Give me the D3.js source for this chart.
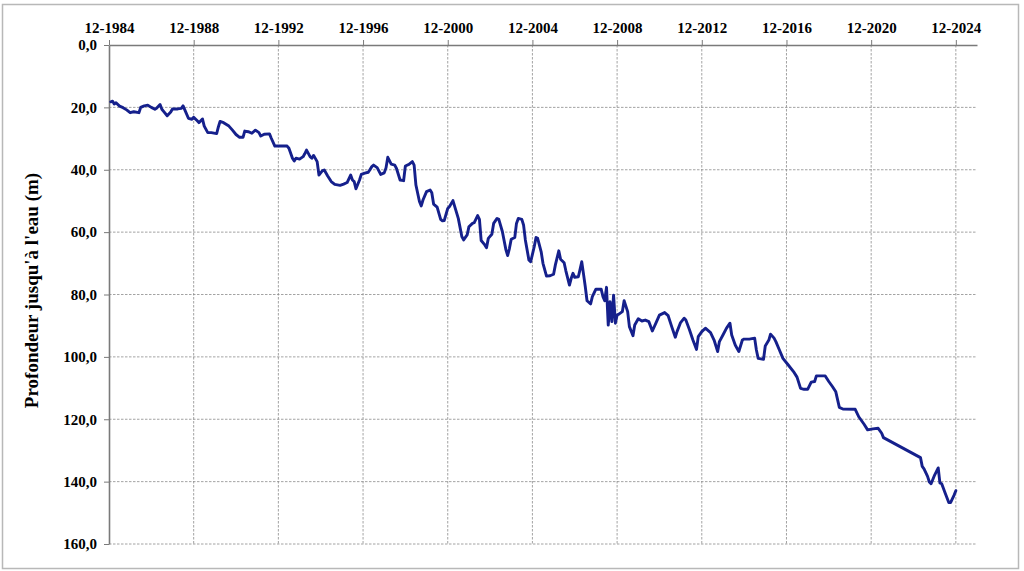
<!DOCTYPE html>
<html>
<head>
<meta charset="utf-8">
<script src="https://cdn.jsdelivr.net/npm/d3@7"></script>
<style>
  html, body { margin: 0; padding: 0; background: #fff; }
  svg { display: block; }
  text { font-family: "Liberation Serif", "Times New Roman", serif; font-weight: bold; fill: #000; }
</style>
</head>
<body>
<svg id="chart" width="1024" height="571"></svg>
<script>
// ---- data ----
const dates = [
  "1985-01","1985-02","1985-03","1985-04","1985-06","1985-08","1985-10","1985-12",
  "1986-02","1986-05","1986-06","1986-08","1986-10","1986-12",
  "1987-02","1987-03","1987-05","1987-06","1987-07","1987-09","1987-11","1987-12",
  "1988-03","1988-05","1988-06","1988-07","1988-09","1988-11","1988-12",
  "1989-02","1989-03","1989-05","1989-06","1989-08","1989-10",
  "1990-01","1990-02","1990-03","1990-05","1990-08","1990-10","1990-12",
  "1991-02","1991-04","1991-05","1991-07","1991-09","1991-11",
  "1992-01","1992-02","1992-04","1992-07","1992-08","1992-10","1992-12",
  "1993-05","1993-06","1993-08","1993-09","1993-10","1993-12",
  "1994-02","1994-03","1994-04","1994-06","1994-07","1994-08","1994-10","1994-11",
  "1995-01","1995-02","1995-04","1995-06","1995-08","1995-11",
  "1996-01","1996-03","1996-05","1996-06","1996-07","1996-08","1996-10","1996-11",
  "1997-01","1997-03","1997-04","1997-05","1997-06","1997-08","1997-10","1997-12",
  "1998-01","1998-02","1998-04","1998-06","1998-07","1998-09","1998-11","1998-12",
  "1999-02","1999-04","1999-05","1999-06","1999-08","1999-09","1999-10","1999-12",
  "2000-02","2000-03","2000-04","2000-06","2000-08","2000-09","2000-10","2000-12",
  "2001-01","2001-03","2001-04","2001-06","2001-08","2001-09","2001-11","2001-12",
  "2002-02","2002-03","2002-05","2002-06","2002-07","2002-09","2002-10","2002-11",
  "2003-01","2003-02","2003-04","2003-05","2003-07","2003-09","2003-10","2003-11","2003-12",
  "2004-02","2004-03","2004-04","2004-06","2004-07","2004-08","2004-10","2004-11",
  "2005-01","2005-02","2005-03","2005-05","2005-06","2005-08","2005-10","2005-12",
  "2006-01","2006-03","2006-04","2006-06","2006-07","2006-09","2006-10","2006-11","2006-12",
  "2007-02","2007-03","2007-04","2007-05","2007-06","2007-07","2007-09","2007-10","2007-12",
  "2008-03","2008-04","2008-05","2008-06","2008-07","2008-08","2008-09","2008-10","2008-11","2008-12",
  "2009-01","2009-03","2009-04","2009-06","2009-07","2009-09","2009-10","2009-12",
  "2010-02","2010-04","2010-06","2010-08","2010-10","2010-12",
  "2011-03","2011-05","2011-07","2011-09","2011-10","2011-12",
  "2012-02","2012-03","2012-05","2012-07","2012-09","2012-10","2012-12",
  "2013-02","2013-05","2013-07","2013-09","2013-10","2013-12",
  "2014-02","2014-04","2014-05","2014-07","2014-09","2014-11","2014-12",
  "2015-03","2015-06","2015-07","2015-08","2015-11","2015-12",
  "2016-02","2016-03","2016-05","2016-06","2016-08","2016-10",
  "2017-01","2017-04","2017-06","2017-08","2017-10","2017-12",
  "2018-02","2018-04","2018-05","2018-10","2018-12",
  "2019-02","2019-04","2019-06","2019-08",
  "2020-03","2020-05","2020-08","2020-10",
  "2021-01","2021-04","2021-06","2021-07",
  "2023-04","2023-05","2023-06","2023-08","2023-09","2023-10","2023-12",
  "2024-02","2024-03","2024-04","2024-06","2024-08","2024-09","2024-11","2024-12"
];
const depths = [
  18.2,18.0,18.9,18.5,19.6,20.1,20.8,21.7,
  21.4,21.7,20.0,19.5,19.3,20.0,
  20.6,20.3,19.1,20.6,21.3,22.7,21.5,20.5,
  20.5,20.3,19.5,20.8,23.5,23.8,23.2,
  24.3,24.9,23.7,26.0,28.1,28.1,
  28.4,26.2,24.5,24.9,26.0,27.3,28.7,
  29.6,29.6,27.6,27.8,28.3,27.3,
  28.1,29.2,28.6,28.5,29.9,32.4,32.4,
  32.4,33.1,36.3,37.2,36.3,36.6,
  35.8,34.9,33.7,35.8,36.3,35.4,37.4,41.7,
  40.3,40.1,42.0,43.8,44.7,45.0,
  44.6,44.1,41.7,43.3,43.8,46.1,43.3,41.5,
  41.1,40.8,39.9,39.0,38.5,39.3,41.5,41.0,
  39.4,36.0,38.2,38.5,39.6,43.3,43.5,38.8,
  38.3,37.4,38.5,44.9,50.2,51.6,49.7,47.0,
  46.5,47.4,51.0,52.0,55.9,56.4,56.3,52.4,
  51.8,49.9,51.8,55.6,61.4,62.5,60.9,58.3,
  57.2,57.0,54.7,55.9,62.7,64.1,65.0,62.0,
  60.7,57.2,55.6,55.9,59.8,65.7,67.5,65.2,62.3,
  61.7,57.2,55.6,55.9,57.7,62.5,68.9,69.5,
  64.7,61.7,62.0,66.3,70.0,74.1,74.0,73.5,
  70.5,66.0,68.7,69.8,72.4,77.0,74.8,73.2,74.5,
  74.3,72.1,69.5,73.4,77.5,82.0,83.0,80.7,78.3,
  78.3,80.7,82.0,77.7,89.8,82.3,88.7,80.2,89.2,86.6,
  86.3,85.5,82.0,85.5,90.3,93.2,89.8,87.8,
  88.5,88.2,88.7,91.7,89.2,86.6,
  85.8,86.8,90.3,93.7,91.9,89.0,
  87.6,88.2,91.2,94.6,97.6,93.5,91.9,
  90.8,92.2,94.6,98.3,95.1,93.0,
  90.8,89.2,93.0,96.2,98.3,94.6,94.3,
  94.3,94.0,97.8,100.5,100.8,96.5,
  94.6,92.7,94.0,95.1,97.8,100.5,
  102.6,104.7,106.5,110.1,110.4,110.4,
  108.1,107.9,106.1,106.1,107.9,
  109.5,111.2,116.2,116.7,
  116.8,119.2,121.6,123.4,
  123.1,122.9,124.5,125.9,
  132.3,135.1,135.9,138.3,140.1,140.7,137.9,
  135.6,140.4,140.7,143.7,146.7,146.7,144.3,142.9
];
const xTickLabels = ["12-1984","12-1988","12-1992","12-1996","12-2000","12-2004","12-2008","12-2012","12-2016","12-2020","12-2024"];
const yTicks = [0, 20, 40, 60, 80, 100, 120, 140, 160];
const yTitle = "Profondeur jusqu'à l'eau (m)";

// ---- layout ----
const svg = d3.select("#chart");
const plot = { left: 109, top: 45, right: 977, bottom: 544 };

const parseM = d3.timeParse("%Y-%m");
const parseTick = d3.timeParse("%m-%Y");
const data = dates.map((d, i) => ({ date: parseM(d), v: depths[i] }));

const x = d3.scaleTime()
  .domain([parseTick("12-1984"), parseTick("12-2025")])
  .range([plot.left, plot.right]);
const y = d3.scaleLinear().domain([0, 160]).range([plot.top, plot.bottom]);

// outer frame
svg.append("rect")
  .attr("x", 2.5).attr("y", 4.5).attr("width", 1016).attr("height", 564)
  .attr("fill", "none").attr("stroke", "#b8b8b8").attr("stroke-width", 1.5);

// gridlines
const tickDates = xTickLabels.map(s => parseTick(s));
svg.append("g").selectAll("line.vg").data(tickDates.slice(1)).join("line")
  .attr("x1", d => x(d)).attr("x2", d => x(d))
  .attr("y1", plot.top).attr("y2", plot.bottom)
  .attr("stroke", "#8c8c8c").attr("stroke-width", 0.8).attr("stroke-dasharray", "2.5,1.5");
svg.append("g").selectAll("line.hg").data(yTicks.slice(1)).join("line")
  .attr("x1", plot.left).attr("x2", plot.right)
  .attr("y1", d => y(d)).attr("y2", d => y(d))
  .attr("stroke", "#8c8c8c").attr("stroke-width", 0.8).attr("stroke-dasharray", "2.5,1.5");

// top axis
const xAxis = d3.axisTop(x).tickValues(tickDates)
  .tickFormat((d, i) => xTickLabels[i]).tickSize(5).tickSizeOuter(0);
const gx = svg.append("g").attr("transform", `translate(0,${plot.top})`).call(xAxis);
gx.select(".domain").attr("stroke", "#7a7a7a").attr("stroke-width", 1.6);
gx.selectAll(".tick line").attr("stroke", "#7a7a7a").attr("stroke-width", 1);
gx.selectAll(".tick text").attr("font-size", 15).attr("dy", "-0.3em")
  .attr("font-family", "Liberation Serif, serif").attr("font-weight", "bold").attr("fill", "#000");

// left axis
const yAxis = d3.axisLeft(y).tickValues(yTicks)
  .tickFormat(d => d.toFixed(1).replace(".", ",")).tickSize(5).tickSizeOuter(0);
const gy = svg.append("g").attr("transform", `translate(${plot.left},0)`).call(yAxis);
gy.select(".domain").attr("stroke", "#7a7a7a").attr("stroke-width", 1.6);
gy.selectAll(".tick line").attr("stroke", "#7a7a7a").attr("stroke-width", 1);
gy.selectAll(".tick text").attr("font-size", 15).attr("x", -12)
  .attr("font-family", "Liberation Serif, serif").attr("font-weight", "bold").attr("fill", "#000");

// y title
svg.append("text")
  .attr("transform", `translate(38,${(plot.top + plot.bottom) / 2 - 4}) rotate(-90)`)
  .attr("text-anchor", "middle").attr("font-size", 19)
  .text(yTitle);

// line
const line = d3.line().x(d => x(d.date)).y(d => y(d.v));
svg.append("path").datum(data)
  .attr("d", line)
  .attr("fill", "none").attr("stroke", "#15208c").attr("stroke-width", 2.9)
  .attr("stroke-linejoin", "round").attr("stroke-linecap", "round");
</script>
</body>
</html>
